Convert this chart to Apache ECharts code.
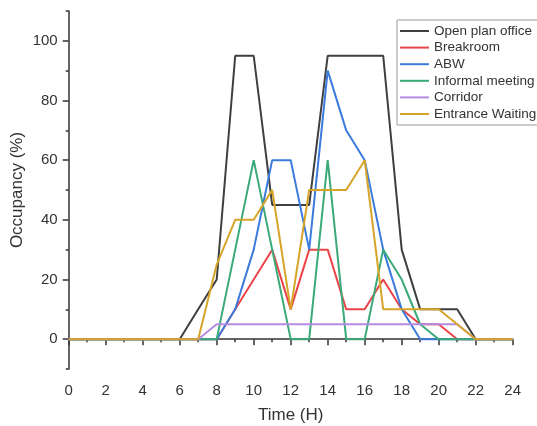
<!DOCTYPE html>
<html>
<head>
<meta charset="utf-8">
<script src="https://cdn.jsdelivr.net/npm/echarts@6/dist/echarts.min.js"></script>
<style>
  html, body { margin: 0; padding: 0; background: #fff; }
  #chart { width: 537px; height: 426px; }
</style>
</head>
<body>
<div id="chart"></div>
<script>
// hours 0..24
const hours = [0, 1, 2, 3, 4, 5, 6, 7, 8, 9, 10, 11, 12, 13, 14, 15, 16, 17, 18, 19, 20, 21, 22, 23, 24]
const openPlan = [0, 0, 0, 0, 0, 0, 0, 10, 20, 95, 95, 45, 45, 45, 95, 95, 95, 95, 30, 10, 10, 10, 0, 0, 0]
const breakroom = [0, 0, 0, 0, 0, 0, 0, 0, 0, 10, 20, 30, 10, 30, 30, 10, 10, 20, 10, 5, 5, 0, 0, 0, 0]
const abw = [0, 0, 0, 0, 0, 0, 0, 0, 0, 10, 30, 60, 60, 30, 90, 70, 60, 30, 10, 0, 0, 0, 0, 0, 0]
const informal = [0, 0, 0, 0, 0, 0, 0, 0, 0, 30, 60, 30, 0, 0, 60, 0, 0, 30, 20, 5, 0, 0, 0, 0, 0]
const corridor = [0, 0, 0, 0, 0, 0, 0, 0, 5, 5, 5, 5, 5, 5, 5, 5, 5, 5, 5, 5, 5, 5, 0, 0, 0]
const entrance = [0, 0, 0, 0, 0, 0, 0, 0, 25, 40, 40, 50, 10, 50, 50, 50, 60, 10, 10, 10, 10, 5, 0, 0, 0]
const seriesNames = ['Open plan office', 'Breakroom', 'ABW', 'Informal meeting', 'Corridor', 'Entrance Waiting']
const yTicks = [0, 20, 40, 60, 80, 100]

const colors = ['#3f3f3f', '#ea4448', '#3a7bdc', '#3aaa78', '#b78ae2', '#d6a428']
const seriesData = [openPlan, breakroom, abw, informal, corridor, entrance]

const axisColor = '#333'
const font = 'Arial, "Liberation Sans", sans-serif'

const chart = echarts.init(document.getElementById('chart'))

const options = {
  animation: false,
  color: colors,
  grid: {
    left: 68.7,
    right: 24.3,
    top: 11,
    bottom: 57,
    outerBoundsMode: 'none',
  },
  legend: {
    orient: 'vertical',
    left: 397,
    top: 20,
    padding: [4, 6, 4, 3],
    icon: 'rect',
    itemWidth: 29,
    itemHeight: 2,
    itemGap: 2.6,
    borderColor: '#999',
    borderWidth: 1,
    backgroundColor: '#fff',
    data: seriesNames,
    textStyle: {
      fontFamily: font,
      fontSize: 13.5,
      color: '#333',
      lineHeight: 14,
    },
  },
  xAxis: {
    type: 'value',
    min: 0,
    max: 24,
    interval: 2,
    name: 'Time (H)',
    nameLocation: 'middle',
    nameGap: 38,
    nameTextStyle: { fontFamily: font, fontSize: 17, color: '#333' },
    axisLine: { show: true, lineStyle: { color: axisColor, width: 1.5 } },
    axisTick: { show: true, length: 6, lineStyle: { color: axisColor, width: 1.5 } },
    minorTick: { show: true, splitNumber: 2, length: 3, lineStyle: { color: axisColor, width: 1.5 } },
    axisLabel: { fontFamily: font, fontSize: 15, color: '#333', margin: 14 },
    splitLine: { show: false },
  },
  yAxis: [
    {
      type: 'value',
      position: 'left',
      min: -10,
      max: 110,
      interval: 10,
      name: 'Occupancy (%)',
      nameLocation: 'middle',
      nameGap: 43,
      nameMoveOverlap: false,
      nameTextStyle: { fontFamily: font, fontSize: 17, color: '#333' },
      axisLine: { show: true, lineStyle: { color: axisColor, width: 1.5 } },
      axisTick: { show: true, length: 6, customValues: yTicks, lineStyle: { color: axisColor, width: 1.5 } },
      axisLabel: {
        fontFamily: font,
        fontSize: 15,
        color: '#333',
        margin: 11,
        customValues: yTicks,
      },
      splitLine: { show: false },
    },
    {
      // short ticks every 10
      type: 'value',
      position: 'left',
      min: -10,
      max: 110,
      interval: 10,
      axisLine: { show: false },
      axisTick: { show: true, length: 3, lineStyle: { color: axisColor, width: 1.5 } },
      axisLabel: { show: false },
      splitLine: { show: false },
    },
  ],
  series: [],
}

options.series = seriesNames.map((name, i) => ({
  name: name,
  type: 'line',
  yAxisIndex: 0,
  symbol: 'none',
  lineStyle: { width: 2, color: colors[i] },
  itemStyle: { color: colors[i] },
  data: hours.map((h, j) => [h, seriesData[i][j]]),
}))

chart.setOption(options)
</script>
</body>
</html>
